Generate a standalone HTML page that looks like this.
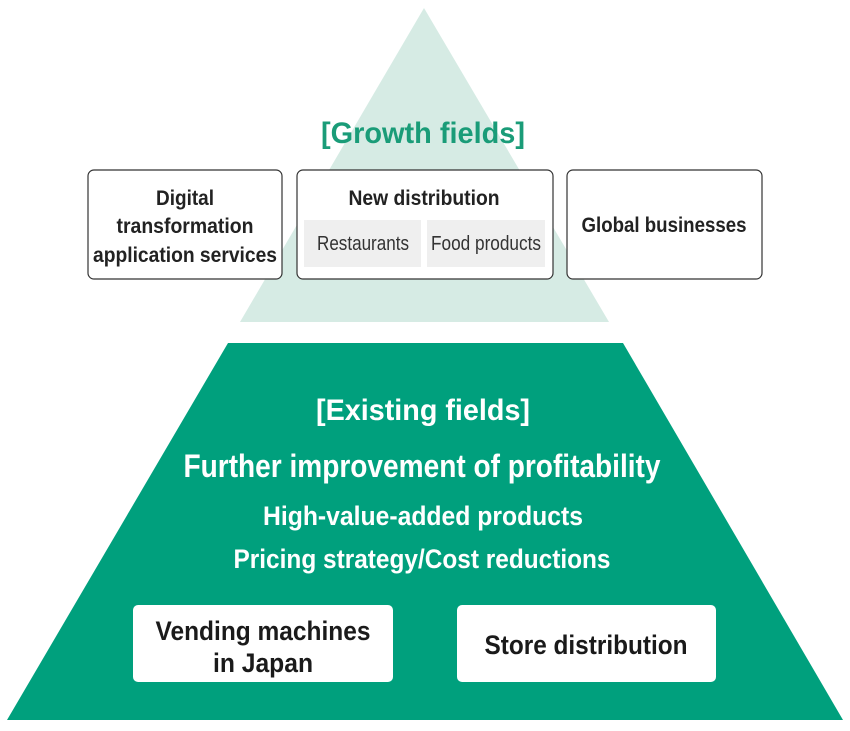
<!DOCTYPE html>
<html><head><meta charset="utf-8"><style>html,body{margin:0;padding:0;background:#fff}svg{display:block}</style></head><body>
<svg width="850" height="731" viewBox="0 0 850 731" xmlns="http://www.w3.org/2000/svg" font-family="'Liberation Sans Narrow','Liberation Sans',sans-serif">
<polygon points="424,8 609,322 240,322" fill="#d6ebe4"/>
<polygon points="228,343 623,343 843,720 7,720" fill="#00a07d"/>
<text x="423" y="143" font-size="30" font-weight="bold" fill="#1a9c78" text-anchor="middle" textLength="204" lengthAdjust="spacingAndGlyphs">[Growth fields]</text>
<g fill="#fff" stroke="#333" stroke-width="1.2">
<rect x="88" y="170" width="194" height="109" rx="6"/>
<rect x="297" y="170" width="256" height="109" rx="6"/>
<rect x="567" y="170" width="195" height="109" rx="6"/>
</g>
<rect x="304" y="220" width="117" height="47" fill="#efefef"/>
<rect x="427" y="220" width="118" height="47" fill="#efefef"/>
<g fill="#222" font-weight="bold" font-size="21" text-anchor="middle" lengthAdjust="spacingAndGlyphs">
<text x="185" y="205" textLength="58" lengthAdjust="spacingAndGlyphs">Digital</text>
<text x="185" y="233" textLength="137" lengthAdjust="spacingAndGlyphs">transformation</text>
<text x="185" y="262" textLength="184" lengthAdjust="spacingAndGlyphs">application services</text>
<text x="424" y="205" textLength="151" lengthAdjust="spacingAndGlyphs">New distribution</text>
<text x="664" y="232" textLength="165" lengthAdjust="spacingAndGlyphs">Global businesses</text>
</g>
<g fill="#333" font-size="20" text-anchor="middle">
<text x="363" y="250" textLength="92" lengthAdjust="spacingAndGlyphs">Restaurants</text>
<text x="486" y="250" textLength="110" lengthAdjust="spacingAndGlyphs">Food products</text>
</g>
<g fill="#fff" font-weight="bold" text-anchor="middle">
<text x="423" y="420" font-size="30" textLength="214" lengthAdjust="spacingAndGlyphs">[Existing fields]</text>
<text x="422" y="477" font-size="32" textLength="477" lengthAdjust="spacingAndGlyphs">Further improvement of profitability</text>
<text x="423" y="525" font-size="27" textLength="320" lengthAdjust="spacingAndGlyphs">High-value-added products</text>
<text x="422" y="568" font-size="27" textLength="377" lengthAdjust="spacingAndGlyphs">Pricing strategy/Cost reductions</text>
</g>
<rect x="133" y="605" width="260" height="77" rx="5" fill="#fff"/>
<rect x="457" y="605" width="259" height="77" rx="5" fill="#fff"/>
<g fill="#1a1a1a" font-weight="bold" font-size="27" text-anchor="middle">
<text x="263" y="640" textLength="215" lengthAdjust="spacingAndGlyphs">Vending machines</text>
<text x="263" y="672" textLength="100" lengthAdjust="spacingAndGlyphs">in Japan</text>
<text x="586" y="654" textLength="203" lengthAdjust="spacingAndGlyphs">Store distribution</text>
</g>
</svg>
</body></html>
